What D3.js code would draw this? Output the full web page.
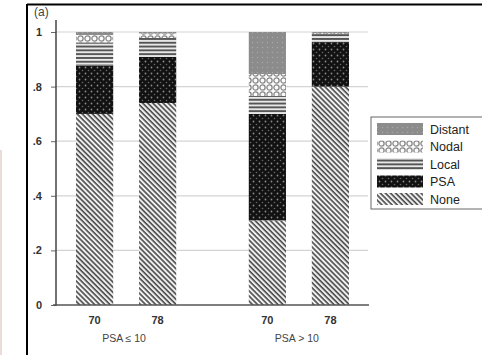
<!DOCTYPE html>
<html>
<head>
<meta charset="utf-8">
<script src="https://d3js.org/d3.v7.min.js"></script>
<style>
body { margin: 0; background: #fff; }
svg { display: block; font-family: "Liberation Sans", Arial, sans-serif; }
</style>
</head>
<body>
<svg width="482" height="355"></svg>
<script>
var groups = ["PSA \u2264 10", "PSA > 10"],
	doses = ["70", "78"],
	outcomes = ["None", "PSA", "Local", "Nodal", "Distant"],
	yTicks = [0, 0.2, 0.4, 0.6, 0.8, 1],
	yTickLabels = ["0", ".2", ".4", ".6", ".8", "1"];

// fraction of patients per outcome, bottom to top
var none    = [0.70, 0.74, 0.31, 0.80],
	psa     = [0.177, 0.169, 0.39, 0.163],
	local   = [0.085, 0.069, 0.066, 0.030],
	nodal   = [0.027, 0.017, 0.080, 0.003],
	distant = [0.011, 0.005, 0.154, 0.004];

var series = {None: none, PSA: psa, Local: local, Nodal: nodal, Distant: distant};

var rows = [];
groups.forEach(function(g, i) {
	doses.forEach(function(d, j) {
		var k = i * 2 + j, row = {group: g, dose: d};
		outcomes.forEach(function(o) { row[o] = series[o][k]; });
		rows.push(row);
	});
});

var svg = d3.select("svg");
var defs = svg.append("defs");

// none: diagonal lines
var p = defs.append("pattern").attr("id", "pNone").attr("patternUnits", "userSpaceOnUse")
	.attr("width", 3.6).attr("height", 3.6).attr("patternTransform", "rotate(45)");
p.append("rect").attr("width", 3.6).attr("height", 3.6).attr("fill", "#f0f0f0");
p.append("rect").attr("width", 3.6).attr("height", 1.6).attr("fill", "#4a4a4a");

// psa: black with dots
p = defs.append("pattern").attr("id", "pPSA").attr("patternUnits", "userSpaceOnUse")
	.attr("width", 6).attr("height", 6);
p.append("rect").attr("width", 6).attr("height", 6).attr("fill", "#121212");
p.append("circle").attr("cx", 1.5).attr("cy", 1.5).attr("r", 0.9).attr("fill", "#8a8a8a");
p.append("circle").attr("cx", 4.5).attr("cy", 4.5).attr("r", 0.8).attr("fill", "#666");

// local: horizontal stripes
p = defs.append("pattern").attr("id", "pLocal").attr("patternUnits", "userSpaceOnUse")
	.attr("width", 4).attr("height", 3.8);
p.append("rect").attr("width", 4).attr("height", 3.8).attr("fill", "#e8e8e8");
p.append("rect").attr("width", 4).attr("height", 1.9).attr("fill", "#555");

// nodal: chain of circles
p = defs.append("pattern").attr("id", "pNodal").attr("patternUnits", "userSpaceOnUse")
	.attr("width", 7).attr("height", 7);
p.append("rect").attr("width", 7).attr("height", 7).attr("fill", "#fafafa");
p.append("circle").attr("cx", 3.5).attr("cy", 3.5).attr("r", 2.6)
	.attr("fill", "none").attr("stroke", "#888").attr("stroke-width", 1.3);

// distant: gray with faint dots
p = defs.append("pattern").attr("id", "pDistant").attr("patternUnits", "userSpaceOnUse")
	.attr("width", 5).attr("height", 5);
p.append("rect").attr("width", 5).attr("height", 5).attr("fill", "#8c8c8c");
p.append("circle").attr("cx", 2.5).attr("cy", 2.5).attr("r", 0.7).attr("fill", "#a8a8a8");

var fills = {None: "url(#pNone)", PSA: "url(#pPSA)", Local: "url(#pLocal)",
	Nodal: "url(#pNodal)", Distant: "url(#pDistant)"};

var y = d3.scaleLinear().domain([0, 1]).range([305, 32]);
var x0 = d3.scaleBand().domain(groups).range([76, 349]).paddingInner(0.42);
var x1 = d3.scaleBand().domain(doses).range([0, x0.bandwidth()]).paddingInner(0.41);

// frame
svg.append("line").attr("x1", 27).attr("x2", 482).attr("y1", 4.5).attr("y2", 4.5)
	.attr("stroke", "#000").attr("stroke-width", 2);
svg.append("line").attr("x1", 27).attr("x2", 27).attr("y1", 4).attr("y2", 355)
	.attr("stroke", "#000").attr("stroke-width", 2);
svg.append("line").attr("x1", 1).attr("x2", 1).attr("y1", 150).attr("y2", 355)
	.attr("stroke", "#eadcd6").attr("stroke-width", 2);

svg.append("text").attr("x", 34).attr("y", 16).attr("font-size", 12).attr("fill", "#444").text("(a)");

// grid
svg.append("g").selectAll("line").data(yTicks.slice(1)).enter().append("line")
	.attr("x1", 56).attr("x2", 368)
	.attr("y1", function(d) { return y(d); }).attr("y2", function(d) { return y(d); })
	.attr("stroke", "#d4d4d4").attr("stroke-width", 1.2);

// bars
var stack = d3.stack().keys(outcomes)(rows);
svg.append("g").selectAll("g").data(stack).enter().append("g")
	.attr("fill", function(d) { return fills[d.key]; })
	.selectAll("rect").data(function(d) { return d; }).enter().append("rect")
	.attr("x", function(d) { return x0(d.data.group) + x1(d.data.dose); })
	.attr("y", function(d) { return y(d[1]); })
	.attr("width", x1.bandwidth())
	.attr("height", function(d) { return y(d[0]) - y(d[1]); });

// y axis
var yAxis = svg.append("g").attr("transform", "translate(56,0)")
	.call(d3.axisLeft(y).tickValues(yTicks).tickFormat(function(d, i) { return yTickLabels[i]; })
		.tickSize(5).tickPadding(9));
yAxis.select(".domain").remove();
yAxis.append("line").attr("x1", 0).attr("x2", 0).attr("y1", 20).attr("y2", 306)
	.attr("stroke", "#444").attr("stroke-width", 1.5);
yAxis.selectAll(".tick line").attr("stroke", "#666");
yAxis.selectAll(".tick text").attr("font-size", 11).attr("fill", "#333").attr("font-weight", "bold");

// x axis
svg.append("line").attr("x1", 53).attr("x2", 369).attr("y1", 305).attr("y2", 305)
	.attr("stroke", "#555").attr("stroke-width", 1.5);
var xl = svg.append("g");
rows.forEach(function(r) {
	xl.append("text").attr("x", x0(r.group) + x1(r.dose) + x1.bandwidth() / 2).attr("y", 324)
		.attr("text-anchor", "middle").attr("font-size", 11).attr("fill", "#333").attr("font-weight", "bold")
		.text(r.dose);
});
groups.forEach(function(g) {
	xl.append("text").attr("x", x0(g) + x0.bandwidth() / 2 - 2).attr("y", 342)
		.attr("text-anchor", "middle").attr("font-size", 10.5).attr("fill", "#444").text(g);
});

// legend
var lg = svg.append("g");
lg.append("rect").attr("x", 371).attr("y", 117).attr("width", 120).attr("height", 92)
	.attr("fill", "#fff").attr("stroke", "#666").attr("stroke-width", 1);
outcomes.slice().reverse().forEach(function(o, i) {
	var cy = 129 + i * 17.5;
	lg.append("rect").attr("x", 377).attr("y", cy - 6).attr("width", 46).attr("height", 12)
		.attr("fill", fills[o]);
	lg.append("text").attr("x", 430).attr("y", cy + 4.5).attr("font-size", 12.5)
		.attr("fill", "#222").text(o);
});
</script>
</body>
</html>
